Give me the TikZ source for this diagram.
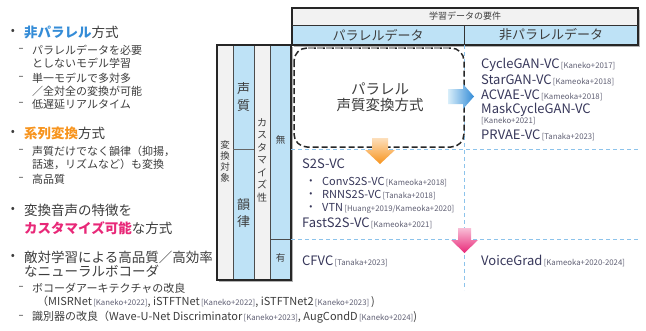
\documentclass[tikz,border=0pt]{standalone}
\usepackage{fontspec}
\setmainfont{Noto Sans CJK JP}
\newfontfamily\djv{DejaVu Sans}
\newcommand\fsz[1]{\fontsize{#1}{#1}\selectfont}
\newcommand\refx[1]{{\fsz{7.8}\color{refgray}\,[#1]}}
\definecolor{txt}{RGB}{60,60,60}
\definecolor{mdl}{RGB}{55,55,90}
\definecolor{refgray}{RGB}{95,95,115}
\definecolor{hdrblue}{RGB}{190,226,246}
\definecolor{lgray}{RGB}{242,242,242}
\definecolor{dashblue}{RGB}{140,195,235}
\definecolor{hlblue}{RGB}{52,140,215}
\definecolor{hlorange}{RGB}{247,148,30}
\definecolor{hlpink}{RGB}{232,40,120}
\begin{document}
\begin{tikzpicture}[x=1pt,y=-1pt,
  lt/.style={anchor=west,inner sep=0pt,text=txt},
  md/.style={anchor=west,inner sep=0pt,text=mdl,font=\fsz{13}},
  sm/.style={anchor=west,inner sep=0pt,text=mdl,font=\fsz{11}},
  ctr/.style={inner sep=0pt,text=txt},
  dsh/.style={inner sep=0pt,text=txt,font=\djv\fsz{10}},
  tbl/.style={line width=1.6pt,draw=black!85},
  bdash/.style={dashblue,line width=0.9pt,dash pattern=on 4pt off 3pt}]
\useasboundingbox (0,0) rectangle (646,330);
% ---------- left list ----------
\node[ctr,font=\fsz{12}] (bu1) at (13,32) {•};
\node[lt,font=\fsz{13.5}] (h1) at (24,32) {\textcolor{hlblue}{\bfseries 非パラレル}方式};
\node[dsh] (d1) at (21,50) {–};
\node[lt,font=\fsz{11}] (s1a) at (32,50) {パラレルデータを必要};
\node[lt,font=\fsz{11}] (s1b) at (32,63) {としないモデル学習};
\node[dsh] (d2) at (21,78) {–};
\node[lt,font=\fsz{11}] (s2a) at (32,78) {単一モデルで多対多};
\node[lt,font=\fsz{11}] (s2b) at (32,91) {／全対全の変換が可能};
\node[dsh] (d3) at (21,104) {–};
\node[lt,font=\fsz{11}] (s3) at (32,104) {低遅延リアルタイム};
\node[ctr,font=\fsz{12}] (bu2) at (13,133) {•};
\node[lt,font=\fsz{13.5}] (h2) at (24,133) {\textcolor{hlorange}{\bfseries 系列変換}方式};
\node[dsh] (d4) at (21,151) {–};
\node[lt,font=\fsz{11}] (s4a) at (32,151) {声質だけでなく韻律（抑揚，};
\node[lt,font=\fsz{11}] (s4b) at (32,164) {話速，リズムなど）も変換};
\node[dsh] (d5) at (21,179) {–};
\node[lt,font=\fsz{11}] (s5) at (32,179) {高品質};
\node[ctr,font=\fsz{12}] (bu3) at (13,210) {•};
\node[lt,font=\fsz{13.5}] (h3a) at (24,210) {変換音声の特徴を};
\node[lt,font=\fsz{13.5}] (h3b) at (24,228) {\textcolor{hlpink}{\bfseries カスタマイズ可能}な方式};
\node[ctr,font=\fsz{12}] (bu4) at (13,257) {•};
\node[lt,font=\fsz{13.5}] (h4a) at (24,257) {敵対学習による高品質／高効率};
\node[lt,font=\fsz{13.5}] (h4b) at (24,271) {なニューラルボコーダ};
\node[dsh] (d6) at (21,288) {–};
\node[lt,font=\fsz{11}] (s6a) at (32,288) {ボコーダアーキテクチャの改良};
\node[lt,font=\fsz{11}] (s6b) at (37,302) {（MISRNet\refx{Kaneko+2022}, iSTFTNet\refx{Kaneko+2022}, iSTFTNet2\refx{Kaneko+2023}\,)};
\node[dsh] (d7) at (21,317) {–};
\node[lt,font=\fsz{11}] (s7) at (32,317) {識別器の改良（Wave-U-Net Discriminator\refx{Kaneko+2023}, AugCondD\refx{Kaneko+2024})};
% ---------- shadows ----------
\fill[black!30] (294,10) rectangle (640,47);
\fill[black!30] (219,47) rectangle (293,282);
% ---------- header ----------
\fill[lgray] (292,8) rectangle (638,25);
\fill[hdrblue] (292,25) rectangle (638,45);
\draw[tbl] (292,8) rectangle (638,45);
\draw[line width=1pt,black!80] (292,25) -- (638,25);
\draw[line width=1pt,black!80] (464,25) -- (464,45);
\node[ctr,font=\fsz{9}] (req) at (465,16.5) {学習データの要件};
\node[ctr,font=\fsz{13}] (par) at (378,35) {パラレルデータ};
\node[ctr,font=\fsz{13}] (npar) at (551,35) {非パラレルデータ};
% ---------- left table ----------
\fill[lgray] (217,45) rectangle (233,280);
\fill[hdrblue] (233,45) rectangle (254,280);
\fill[lgray] (254,45) rectangle (270,280);
\fill[hdrblue] (270,45) rectangle (291,280);
\draw[line width=0.8pt,black!70] (233,45) -- (233,280) (254,45) -- (254,280) (270,45) -- (270,280);
\draw[line width=0.8pt,black!60] (233,149) -- (254,149);
\draw[line width=0.8pt,black!70] (270,239) -- (291,239);
\draw[tbl] (217,45) rectangle (291,280);
\node[ctr,font=\fsz{9.5},align=center] (tgt) at (225,161) {変\\[1.5pt]換\\[1.5pt]対\\[1.5pt]象};
\node[ctr,font=\fsz{13},align=center] (vq) at (243.5,97) {声\\[4pt]質};
\node[ctr,font=\fsz{13},align=center] (pr) at (243.5,213) {韻\\[4pt]律};
\node[ctr,font=\fsz{10},align=center] (cus) at (262,160) {カ\\[2.5pt]ス\\[2.5pt]タ\\[2.5pt]マ\\[2.5pt]イ\\[2.5pt]ズ\\[2.5pt]性};
\node[ctr,font=\fsz{9.5}] (mu) at (280.5,140) {無};
\node[ctr,font=\fsz{9.5}] (yu) at (280.5,258) {有};
% ---------- dashed grid ----------
\draw[bdash] (291,149) -- (638,149);
\draw[bdash] (291,239) -- (638,239);
\draw[bdash] (464,45) -- (464,290);
% ---------- parallel box ----------
\draw[black!85,line width=1.5pt,dash pattern=on 6pt off 3pt,rounded corners=13pt,fill=white] (294,48) rectangle (464,147);
\draw[black!35,line width=1.8pt,dash pattern=on 6pt off 3pt] (308,48) -- (450,48);
\node[ctr,font=\fsz{14.5},align=center] (pvc) at (380,97) {パラレル\\[2pt]声質変換方式};
% ---------- arrows ----------
\shade[left color=hdrblue!60!white,right color=hlblue] (448,89) -- (463,89) -- (463,84) -- (474,96.5) -- (463,109) -- (463,104) -- (448,104) -- cycle;
\shade[top color=hlorange!30!white,bottom color=hlorange] (372,138) -- (388,138) -- (388,150) -- (395,150) -- (380,164) -- (365,150) -- (372,150) -- cycle;
\shade[top color=hlpink!30!white,bottom color=hlpink] (458,228) -- (471,228) -- (471,240) -- (478,240) -- (464.5,253) -- (451,240) -- (458,240) -- cycle;
% ---------- non-parallel models ----------
\node[md] (cyc) at (481,65) {CycleGAN-VC\refx{Kaneko+2017}};
\node[md] (star) at (481,80) {StarGAN-VC\refx{Kameoka+2018}};
\node[md] (acv) at (481,95) {ACVAE-VC\refx{Kameoka+2018}};
\node[md] (mask) at (481,110) {MaskCycleGAN-VC};
\node[anchor=west,inner sep=0pt,text=refgray,font=\fsz{7.8}] (maskr) at (481,121.5) {[Kaneko+2021]};
\node[md] (prv) at (481,135) {PRVAE-VC\refx{Tanaka+2023}};
% ---------- seq2seq models ----------
\node[md] (s2s) at (302,164) {S2S-VC};
\node[ctr,text=mdl,font=\fsz{9}] (bl1) at (311,181.5) {•};
\node[sm] (conv) at (322,182) {ConvS2S-VC\refx{Kameoka+2018}};
\node[ctr,text=mdl,font=\fsz{9}] (bl2) at (311,194.5) {•};
\node[sm] (rnn) at (322,195) {RNNS2S-VC\refx{Tanaka+2018}};
\node[ctr,text=mdl,font=\fsz{9}] (bl3) at (311,207.5) {•};
\node[sm] (vtn) at (322,208) {VTN\refx{Huang+2019/Kameoka+2020}};
\node[md] (fast) at (302,223) {FastS2S-VC\refx{Kameoka+2021}};
\node[md] (cfvc) at (302,261) {CFVC\refx{Tanaka+2023}};
\node[md] (vg) at (481,261) {VoiceGrad\refx{Kameoka+2020-2024}};
\end{tikzpicture}
\end{document}
